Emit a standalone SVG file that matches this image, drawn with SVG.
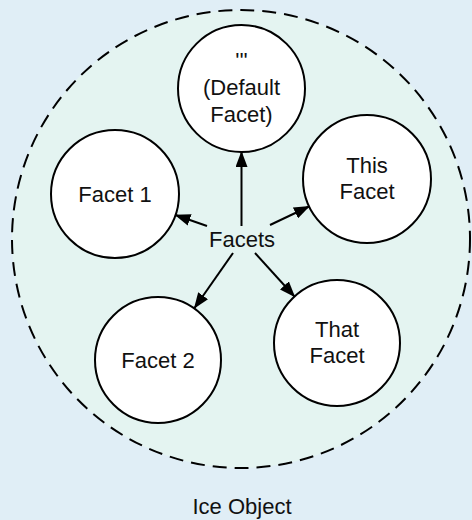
<svg xmlns="http://www.w3.org/2000/svg" width="472" height="520" viewBox="0 0 472 520">
  <style>
    .facet circle { fill: #ffffff; stroke: #000000; stroke-width: 2; }
    text { font-family: "Liberation Sans", Arial, Helvetica, sans-serif; font-size: 22px; fill: #111111; text-anchor: middle; }
    .conn line { stroke: #000000; stroke-width: 2; marker-end: url(#head); }
  </style>
  <defs>
    <marker id="head" viewBox="0 0 16 12" refX="15" refY="6" markerWidth="16" markerHeight="12" markerUnits="userSpaceOnUse" orient="auto">
      <path d="M0,0 L16,6 L0,12 Z" fill="#000000"/>
    </marker>
  </defs>

  <rect x="0" y="0" width="472" height="520" fill="#e0eef6"/>

  <!-- object boundary -->
  <g id="ice-object">
    <circle cx="241" cy="239" r="229" fill="#e4f4f1" stroke="#000000" stroke-width="2" stroke-dasharray="14 8"/>
    <text x="242" y="514">Ice Object</text>
  </g>

  <g id="default-facet" class="facet">
    <circle cx="241.5" cy="88.5" r="63.5"/>
    <text x="241.5" y="68">'''</text>
    <text x="241.5" y="95">(Default</text>
    <text x="241.5" y="122">Facet)</text>
  </g>

  <g id="facet-1" class="facet">
    <circle cx="115" cy="194" r="64"/>
    <text x="115" y="202">Facet 1</text>
  </g>

  <g id="this-facet" class="facet">
    <circle cx="367" cy="179" r="64"/>
    <text x="367" y="173">This</text>
    <text x="367" y="199">Facet</text>
  </g>

  <g id="facet-2" class="facet">
    <circle cx="158" cy="360" r="63"/>
    <text x="158" y="368">Facet 2</text>
  </g>

  <g id="that-facet" class="facet">
    <circle cx="337" cy="343" r="63"/>
    <text x="337" y="337">That</text>
    <text x="337" y="363">Facet</text>
  </g>

  <g id="facets-label">
    <text x="242" y="247">Facets</text>
  </g>

  <g id="connectors" class="conn">
    <line x1="241.5" y1="226" x2="241.5" y2="152"/>
    <line x1="207" y1="226" x2="175.5" y2="215"/>
    <line x1="270" y1="225" x2="309" y2="206.5"/>
    <line x1="233" y1="253" x2="194.5" y2="308"/>
    <line x1="255" y1="253" x2="294.5" y2="296.5"/>
  </g>
</svg>
